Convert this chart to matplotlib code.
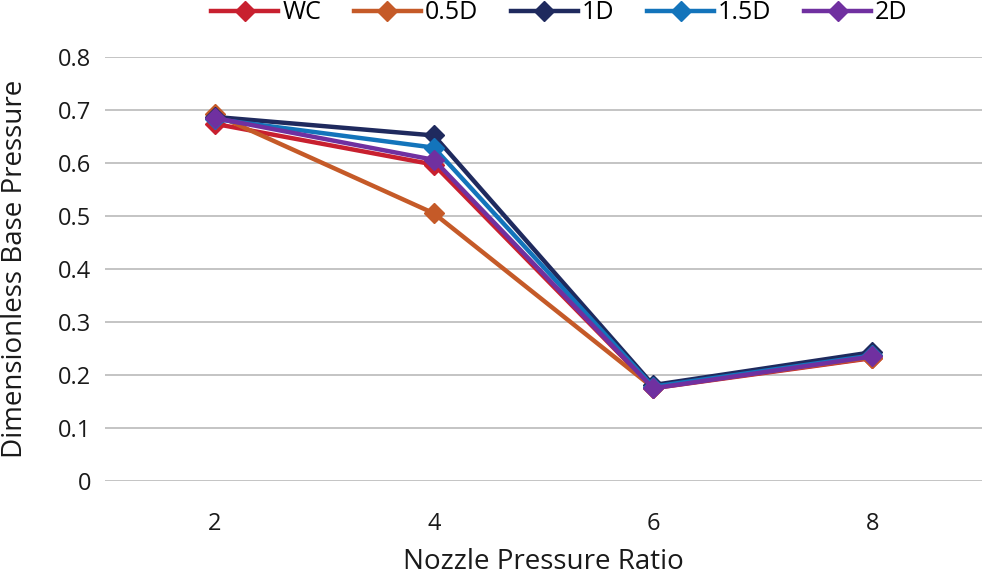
import matplotlib.pyplot as plt

npr = ["2", "4", "6", "8"]
series_names = ["WC", "0.5D", "1D", "1.5D", "2D"]
wc = [0.674, 0.597, 0.175, 0.232]
d05 = [0.692, 0.505, 0.176, 0.233]
d1 = [0.687, 0.652, 0.181, 0.243]
d15 = [0.683, 0.629, 0.178, 0.237]
d2 = [0.685, 0.606, 0.175, 0.235]
y_ticks = [0, 0.1, 0.2, 0.3, 0.4, 0.5, 0.6, 0.7, 0.8]

colors = ["#C8202F", "#C55A28", "#1F2A5E", "#1374BB", "#7030A0"]

plt.rcParams['font.family'] = ['Open Sans', 'DejaVu Sans']

fig = plt.figure(figsize=(9.85, 5.77), dpi=100)
ax = fig.add_axes([105 / 985, 1 - 481 / 577, 877 / 985, 424 / 577])

x = list(range(len(npr)))
for name, vals, c in zip(series_names, [wc, d05, d1, d15, d2], colors):
    ax.plot(x, vals, color=c, lw=3.2, marker="D", markersize=10, label=name)

ax.set_xlim(-0.5, 3.5)
ax.set_ylim(0, 0.8)
ax.set_xticks(x)
ax.set_xticklabels(npr)
ax.set_yticks(y_ticks)
ax.set_yticklabels(["0"] + [f"{v:.1f}" for v in y_ticks[1:]])
ax.yaxis.grid(True, color="#BFBFBF", lw=1.3)
ax.set_axisbelow(True)
for s in ax.spines.values():
    s.set_visible(False)
ax.tick_params(length=0, labelsize=17, colors="#1a1a1a", pad=10)
ax.tick_params(axis="x", pad=22)

ax.set_xlabel("Nozzle Pressure Ratio", fontsize=20, color="#1a1a1a")
ax.set_ylabel("Dimensionless Base Pressure", fontsize=20, color="#1a1a1a")
ax.xaxis.set_label_coords(0.5, -(562 - 481) / 424, transform=ax.transAxes)
ax.yaxis.set_label_coords(-(105 - 15) / 877, 0.5, transform=ax.transAxes)
ax.xaxis.label.set_va("center")
ax.yaxis.label.set_va("center")

ax.legend(loc="center", bbox_to_anchor=(0.518, 1 + 44 / 424), ncol=5, frameon=False,
          fontsize=18, handlelength=2.7, columnspacing=1.3, handletextpad=0.15,
          borderaxespad=0)

fig.savefig("out.png", dpi=100)
